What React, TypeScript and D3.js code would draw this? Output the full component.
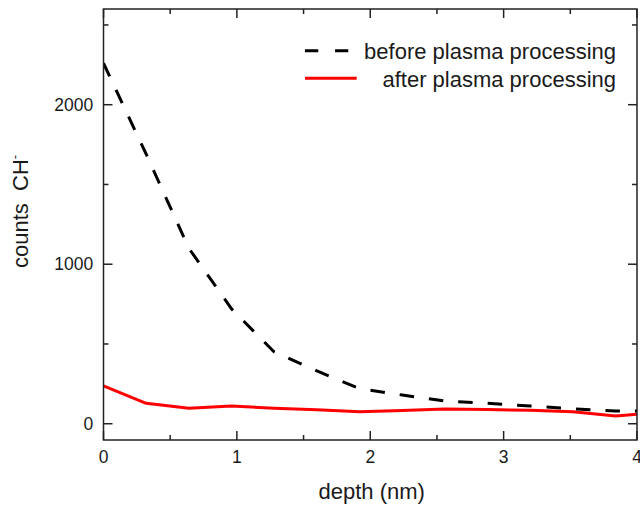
import React from "react";
import * as d3 from "d3";

const depth = [0, 0.32, 0.64, 0.96, 1.28, 1.6, 1.92, 2.24, 2.56, 2.88, 3.2, 3.52, 3.84, 4.0];
const before = [2260, 1690, 1100, 720, 450, 331, 220, 180, 142, 128, 111, 93, 80, 80];
const after = [237, 128, 97, 111, 97, 88, 75, 83, 92, 89, 84, 75, 48, 59];

const xMajor = [0, 1, 2, 3, 4];
const xMinor = [0.5, 1.5, 2.5, 3.5];
const yMajor = [0, 1000, 2000];
const yMinor = [500, 1500, 2500];

const seriesNames = ["before plasma processing", "after plasma processing"];

const W = 640;
const H = 505;
const L = 103.5;
const R = 637;
const T = 9;
const B = 440;

const FONT = "'Liberation Sans', Arial, sans-serif";
const AX = "#222";

export default function App() {
  const x = d3.scaleLinear().domain([0, 4]).range([L, R]);
  const y = d3.scaleLinear().domain([-102, 2600]).range([B, T]);

  const line = d3
    .line<number>()
    .x((_, i) => x(depth[i]))
    .y((d) => y(d));

  const major = 9;
  const minor = 5;

  return (
    <svg
      width={W}
      height={H}
      style={{ position: "absolute", left: 0, top: 0, background: "#fff" }}
      fontFamily={FONT}
    >
      <defs>
        <clipPath id="plot">
          <rect x={L} y={T} width={R - L} height={B - T} />
        </clipPath>
      </defs>
      <rect x={0} y={0} width={W} height={H} fill="#fff" />

      <g clipPath="url(#plot)">
        <path d={line(after) || ""} fill="none" stroke="#ff0000" strokeWidth={3} strokeLinejoin="round" />
        <path
          d={line(before) || ""}
          fill="none"
          stroke="#000"
          strokeWidth={3}
          strokeDasharray="14.5,15"
          strokeLinejoin="round"
        />
      </g>

      {/* frame */}
      <rect x={L} y={T} width={R - L} height={B - T} fill="none" stroke={AX} strokeWidth={1.5} />

      {/* x ticks */}
      {xMajor.map((v) => (
        <g key={"xM" + v}>
          <line x1={x(v)} x2={x(v)} y1={B} y2={B - major} stroke={AX} strokeWidth={1.5} />
          <line x1={x(v)} x2={x(v)} y1={T} y2={T + major} stroke={AX} strokeWidth={1.5} />
          <text x={x(v)} y={463.3} textAnchor="middle" fontSize={17.5} fill="#1a1a1a">
            {v}
          </text>
        </g>
      ))}
      {xMinor.map((v) => (
        <g key={"xm" + v}>
          <line x1={x(v)} x2={x(v)} y1={B} y2={B - minor} stroke={AX} strokeWidth={1.5} />
          <line x1={x(v)} x2={x(v)} y1={T} y2={T + minor} stroke={AX} strokeWidth={1.5} />
        </g>
      ))}

      {/* y ticks */}
      {yMajor.map((v) => (
        <g key={"yM" + v}>
          <line x1={L} x2={L + major} y1={y(v)} y2={y(v)} stroke={AX} strokeWidth={1.5} />
          <line x1={R} x2={R - major} y1={y(v)} y2={y(v)} stroke={AX} strokeWidth={1.5} />
          <text x={93.3} y={y(v)} dy="0.355em" textAnchor="end" fontSize={17.5} fill="#1a1a1a">
            {v}
          </text>
        </g>
      ))}
      {yMinor.map((v) => (
        <g key={"ym" + v}>
          <line x1={L} x2={L + minor} y1={y(v)} y2={y(v)} stroke={AX} strokeWidth={1.5} />
          <line x1={R} x2={R - minor} y1={y(v)} y2={y(v)} stroke={AX} strokeWidth={1.5} />
        </g>
      ))}

      {/* axis titles */}
      <text x={371.7} y={499} textAnchor="middle" fontSize={22} fill="#1a1a1a">
        depth (nm)
      </text>
      <text
        transform="translate(28.3,268) rotate(-90)"
        x={0}
        y={0}
        textAnchor="start"
        fontSize={22}
        fill="#1a1a1a"
        style={{ whiteSpace: "pre" }}
      >
        {"counts  CH"}
        <tspan fontSize={13} dy={-9}>
          -
        </tspan>
      </text>

      {/* legend */}
      <line x1={305} x2={349.5} y1={50.7} y2={50.7} stroke="#000" strokeWidth={3} strokeDasharray="13.3,16.7" />
      <text x={616} y={59} textAnchor="end" fontSize={22} fill="#1a1a1a">
        {seriesNames[0]}
      </text>
      <line x1={305} x2={356.7} y1={78.3} y2={78.3} stroke="#ff0000" strokeWidth={3} />
      <text x={616} y={87.4} textAnchor="end" fontSize={22} fill="#1a1a1a">
        {seriesNames[1]}
      </text>
    </svg>
  );
}
